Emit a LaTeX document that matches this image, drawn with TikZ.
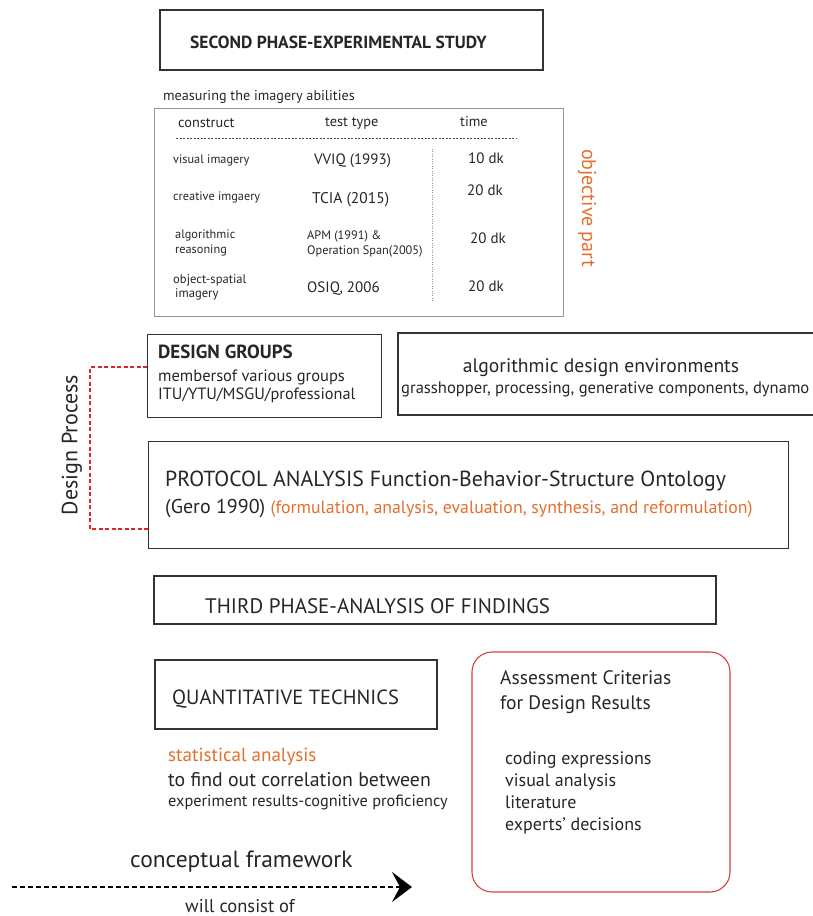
\documentclass[tikz,border=0pt]{standalone}
\usepackage{fontspec}
\setmainfont{PT Sans}
\usetikzlibrary{arrows.meta,calc}
\definecolor{orng}{RGB}{228,110,45}
\definecolor{redd}{RGB}{214,40,40}
\definecolor{gbox}{RGB}{150,150,150}
\begin{document}
\begin{tikzpicture}[x=1pt,y=-1pt,
  box/.style={draw=black!80,line width=1.2pt},
  txt/.style={inner sep=0pt,anchor=base west,text=black!85},
  fs/.style={font=\fontsize{#1}{#1}\selectfont}]
\useasboundingbox (0,0) rectangle (813,916);
% second phase
\draw[box] (160,10) rectangle (543,70);
\node[txt,fs=17.5] (t1) at (190,48) {\bfseries SECOND PHASE-EXPERIMENTAL STUDY};
\node[txt,fs=14.2] (t2) at (163,100) {measuring the imagery abilities};
\draw[draw=gbox,line width=1pt] (154,108) rectangle (563,316);
\node[txt,fs=14.3] (h1) at (178,127) {construct};
\node[txt,fs=14.3] (h2) at (325,126) {test type};
\node[txt,fs=14.3] (h3) at (460,126) {time};
\draw[dashed,dash pattern=on 2pt off 1.5pt,black!70] (176,138) -- (517,138);
\draw[dotted,gbox] (432,149) -- (432,302);
\node[txt,fs=12.3] (r1a) at (173,163) {visual imagery};
\node[txt,fs=15] (r1b) at (314,164) {VVIQ (1993)};
\node[txt,fs=15] (r1c) at (468,163) {10 dk};
\node[txt,fs=12.3] (r2a) at (173,200) {creative imgaery};
\node[txt,fs=15.5] (r2b) at (312,203) {TCIA (2015)};
\node[txt,fs=15] (r2c) at (467,195) {20 dk};
\node[txt,fs=12.3] (r3a) at (175,238) {algorithmic};
\node[txt,fs=12.3] (r3a2) at (175,253) {reasoning};
\node[txt,fs=12.3] (r3b) at (307,239) {APM (1991) \&};
\node[txt,fs=12.3] (r3b2) at (307,254) {Operation Span(2005)};
\node[txt,fs=15] (r3c) at (470,243) {20 dk};
\node[txt,fs=12.6] (r4a) at (173,283) {object-spatial};
\node[txt,fs=12.6] (r4a2) at (175,297) {imagery};
\node[txt,fs=15] (r4b) at (307,292) {OSIQ, 2006};
\node[txt,fs=15] (r4c) at (468,291) {20 dk};
\node[inner sep=0pt,fs=20,text=orng,rotate=-90] (obj) at (587,208) {objective part};
% design groups
\node[box,minimum width=234pt,minimum height=83pt,anchor=north west,inner sep=0pt] (dg) at (147,334) {};
\node[txt,fs=19] (dg1) at (158,358) {\bfseries DESIGN GROUPS};
\node[txt,fs=16.5] (dg2) at (158,381) {membersof various groups};
\node[txt,fs=16.3] (dg3) at (158,399) {ITU/YTU/MSGU/professional};
\draw[box] (813,333) -- (398,333) -- (398,415) -- (813,415);
\node[inner sep=0pt,fs=19.6,text=black!85,anchor=base] (ad1) at (601,372) {algorithmic design environments};
\node[inner sep=0pt,fs=16.6,text=black!85,anchor=base west] (ad2) at (401,393) {grasshopper, processing, generative components, dynamo};
% protocol
\node[box,minimum width=640pt,minimum height=107pt,anchor=north west,inner sep=0pt] (pa) at (148,441) {};
\node[txt,fs=21.8] (pa1) at (165,486) {PROTOCOL ANALYSIS Function-Behavior-Structure Ontology};
\node[txt,fs=20] (pa2) at (165,513) {(Gero 1990) \textcolor{orng}{\fontsize{17.8}{17.8}\selectfont(formulation, analysis, evaluation, synthesis, and reformulation)}};
% bracket
\coordinate (b1) at (147,367);
\coordinate (b2) at (148,529);
\draw[redd,line width=2pt,dash pattern=on 4pt off 2.5pt] (b1) -- (90,367) -- (90,529) -- (b2);
\node[inner sep=0pt,fs=22,text=black!85,rotate=90] (dp) at (72,445) {Design Process};
% third phase
\draw[box] (154,576) rectangle (716,624);
\node[txt,fs=21] (tp) at (205,613) {THIRD PHASE-ANALYSIS OF FINDINGS};
% quantitative
\draw[box] (155,660) rectangle (437,729);
\node[txt,fs=20.5] (qt) at (172,704) {QUANTITATIVE TECHNICS};
\node[txt,fs=19,text=orng] (sa) at (168,761) {statistical analysis};
\node[txt,fs=19.8] (sb) at (168,786) {to find out correlation between};
\node[txt,fs=16.3] (sc) at (168,806) {experiment results-cognitive proficiency};
% assessment
\draw[redd!90,line width=1.1pt,rounded corners=20pt] (472,652) rectangle (730,892);
\node[txt,fs=19.5] (as1) at (500,684) {Assessment Criterias};
\node[txt,fs=19.5] (as2) at (500,709) {for Design Results};
\node[txt,fs=18] (l1) at (505,764) {coding expressions};
\node[txt,fs=18] (l2) at (505,786) {visual analysis};
\node[txt,fs=18] (l3) at (505,808) {literature};
\node[txt,fs=18] (l4) at (505,830) {experts' decisions};
% arrow
\node[txt,fs=23.5] (cf) at (130,867) {conceptual framework};
\coordinate (aS) at (12,887);
\coordinate (aE) at (412,887);
\draw[line width=2pt,dash pattern=on 5pt off 3pt,-{Stealth[length=20pt,width=30pt,inset=8pt]}] (aS) -- (aE);
\node[txt,fs=18.5] (wc) at (185,912) {will consist of};
\end{tikzpicture}
\end{document}
